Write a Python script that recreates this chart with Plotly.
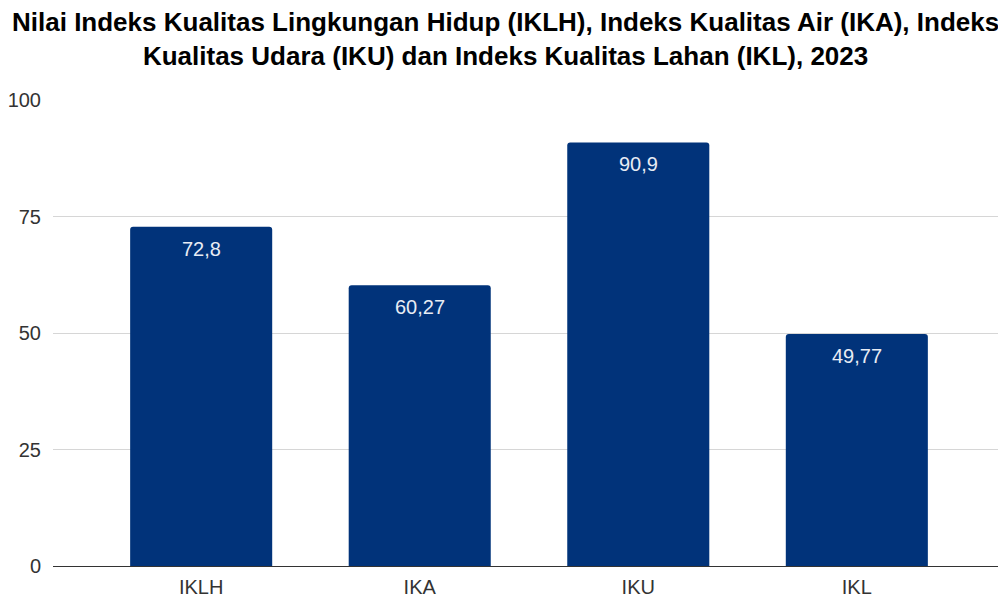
import plotly.graph_objects as go

categories = ["IKLH", "IKA", "IKU", "IKL"]
values = [72.8, 60.27, 90.9, 49.77]
y_ticks = [0, 25, 50, 75, 100]

title_text = ("<b>Nilai Indeks Kualitas Lingkungan Hidup (IKLH), Indeks Kualitas Air (IKA), Indeks<br>"
              "Kualitas Udara (IKU) dan Indeks Kualitas Lahan (IKL), 2023</b>")

bar_color = "#01337a"
FONT = "Liberation Sans, Arial, sans-serif"
labels = [f"{v:g}".replace(".", ",") for v in values]

# page body has an 8px margin; compensate so the plot lands where the reference has it
OFF = 8
W, H = 1006 - OFF, 597 - OFF
ML, MT, MR, MB = 53 - OFF, 100 - OFF, 1, 31
PH = H - MT - MB

fig = go.Figure()
fig.add_trace(go.Bar(
    x=categories, y=values, marker=dict(color=bar_color, line=dict(width=0)),
    width=0.65, hoverinfo="skip",
))
for c, v, t in zip(categories, values, labels):
    fig.add_annotation(x=c, y=v, text=t, showarrow=False, yanchor="top", yshift=-9,
                       font=dict(family=FONT, size=20, color="#e8ecf4"))

fig.add_annotation(
    xref="paper", yref="paper", x=(505 - 53) / 952, y=1 + (MT + 3) / PH,
    xanchor="center", yanchor="top", showarrow=False, align="center",
    text=title_text, font=dict(family=FONT, size=26, color="#000000"),
)

fig.update_layout(
    width=W, height=H,
    margin=dict(l=ML, r=MR, t=MT, b=MB, autoexpand=False),
    paper_bgcolor="white", plot_bgcolor="white",
    barcornerradius=3,
    showlegend=False,
    xaxis=dict(
        range=[-0.678, 3.678], showgrid=False, showline=False, zeroline=False,
        ticks="", ticklabelstandoff=7, automargin=False,
        tickfont=dict(family=FONT, size=20, color="#333333"),
    ),
    yaxis=dict(
        range=[0, 100], tickvals=y_ticks, showgrid=True, gridcolor="#d6d6d6", gridwidth=1,
        zeroline=True, zerolinecolor="#333333", zerolinewidth=1.2, showline=False,
        ticks="", ticklabelstandoff=11, automargin=False,
        tickfont=dict(family=FONT, size=20, color="#333333"),
    ),
)
fig.write_html("out.html")
